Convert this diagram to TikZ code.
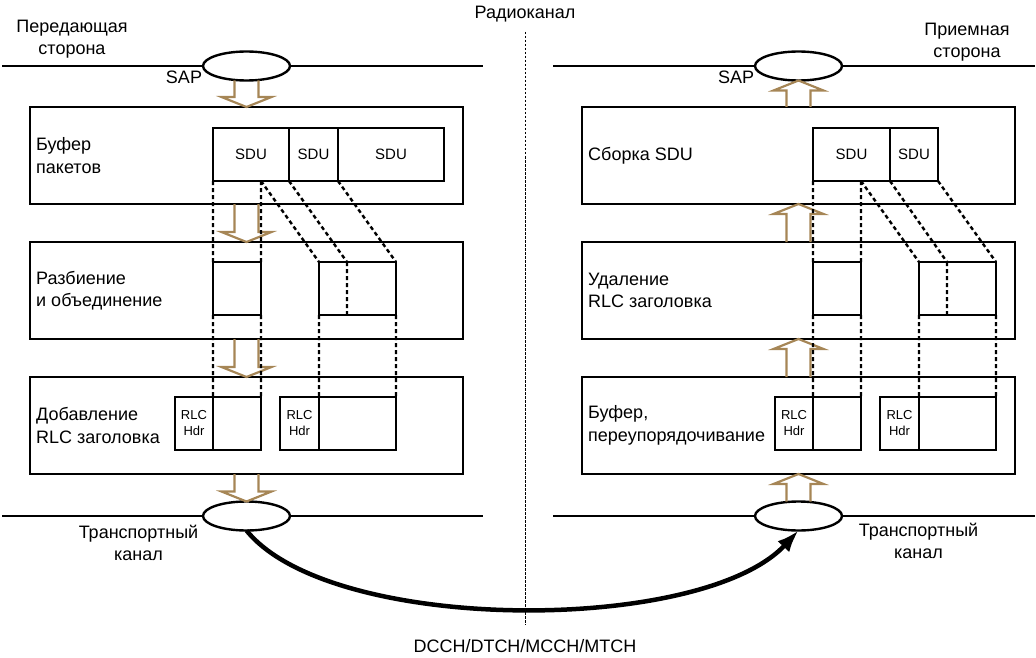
\documentclass[tikz,border=0pt]{standalone}
\usepackage{fontspec}
\setmainfont{Liberation Sans}
\usetikzlibrary{positioning,calc,shapes.geometric,arrows.meta}
\definecolor{feedbrown}{RGB}{166,134,86}

\begin{document}
\begin{tikzpicture}[
    x=1pt, y=-1pt,
    stage/.style={draw, line width=2.6pt, minimum width=433pt, minimum height=97pt, inner sep=0pt, outer sep=0pt},
    cell/.style={draw, line width=2.6pt, anchor=north west, minimum height=53pt, inner sep=0pt, outer sep=0pt,
      font=\fontsize{15pt}{18pt}\selectfont},
    hdrcell/.style={cell, align=center, font=\fontsize{13pt}{16pt}\selectfont},
    lbl/.style={inner sep=0pt, align=left, font=\fontsize{18pt}{22.5pt}\selectfont},
    txt/.style={inner sep=0pt, align=center, font=\fontsize{18pt}{22.5pt}\selectfont},
    port/.style={draw, ellipse, line width=2.4pt, minimum width=87pt, minimum height=29pt, inner sep=0pt, outer sep=0pt},
    bus/.style={line width=2.2pt},
    link/.style={line width=2.4pt, dash pattern=on 4pt off 3pt},
    feed/.style={draw=feedbrown, line width=2.2pt, to path={
      let \p1=(\tikztostart), \p2=(\tikztotarget) in
      (\x1-12pt,\y1) -- (\x1-12pt,\y2+#1) -- (\x1-25pt,\y2+#1) -- (\x1,\y2)
      -- (\x1+25pt,\y2+#1) -- (\x1+12pt,\y2+#1) -- (\x1+12pt,\y1)}},
    feed/.default=10pt,
    channel/.style={line width=4.5pt, -{Latex[length=22pt,width=16pt]}}
  ]

  \useasboundingbox (0,0) rectangle (1036,658);

  \node[stage] (lbuf) at (246.5,155.5) {};
  \node[stage] (lseg) at (246.5,290.5) {};
  \node[stage] (lhdr) at (246.5,425.5) {};
  \node[stage] (rasm) at (798.5,155.5) {};
  \node[stage] (rrem) at (798.5,290.5) {};
  \node[stage] (rbuf) at (798.5,425.5) {};

  \node[lbl, right=6pt of lbuf.west] {Буфер\\пакетов};
  \node[lbl, right=6pt of lseg.west] {Разбиение\\и объединение};
  \node[lbl, right=6pt of lhdr.west] {Добавление\\RLC заголовка};
  \node[lbl, right=6pt of rasm.west] {Сборка SDU};
  \node[lbl, right=6pt of rrem.west] {Удаление\\RLC заголовка};
  \node[lbl, right=6pt of rbuf.west] {Буфер,\\переупорядочивание};

  \node[cell, minimum width=76pt] (ls1) at (213,128) {SDU};
  \node[cell, minimum width=49pt] (ls2) at (ls1.north east) {SDU};
  \node[cell, minimum width=106pt] (ls3) at (ls2.north east) {SDU};
  \node[cell, minimum width=48pt] (lg1) at (213,262) {};
  \node[cell, minimum width=77pt] (lg2) at (319,262) {};
  \node[hdrcell, minimum width=38pt] (lh1) at (175,397) {RLC\\Hdr};
  \node[cell, minimum width=48pt] (ld1) at (lh1.north east) {};
  \node[hdrcell, minimum width=39pt] (lh2) at (280,397) {RLC\\Hdr};
  \node[cell, minimum width=77pt] (ld2) at (lh2.north east) {};

  \node[cell, minimum width=77pt] (rs1) at (813,128) {SDU};
  \node[cell, minimum width=48pt] (rs2) at (rs1.north east) {SDU};
  \node[cell, minimum width=48pt] (rg1) at (813,262) {};
  \node[cell, minimum width=77pt] (rg2) at (919,262) {};
  \node[hdrcell, minimum width=38pt] (rh1) at (775,397) {RLC\\Hdr};
  \node[cell, minimum width=48pt] (rd1) at (rh1.north east) {};
  \node[hdrcell, minimum width=39pt] (rh2) at (880,397) {RLC\\Hdr};
  \node[cell, minimum width=77pt] (rd2) at (rh2.north east) {};

  \node[port] (sapL) at (246.5,66) {};
  \node[port] (trL) at (246.5,516) {};
  \node[port] (sapR) at (798.5,66) {};
  \node[port] (trR) at (798.5,516) {};

  \draw[feed] (sapL.south) to (lbuf.north);
  \draw[feed] (lbuf.south) to (lseg.north);
  \draw[feed] (lseg.south) to (lhdr.north);
  \draw[feed] (lhdr.south) to (trL.north);
  \draw[feed=-10pt] (trR.north) to (rbuf.south);
  \draw[feed=-10pt] (rbuf.north) to (rrem.south);
  \draw[feed=-10pt] (rrem.north) to (rasm.south);
  \draw[feed=-10pt] (rasm.north) to (sapR.south);

  \coordinate (lcut) at (lg1.north east |- ls1.south);
  \coordinate (lmidt) at ([xshift=28pt]lg2.north west);
  \coordinate (lmidb) at ([xshift=28pt]lg2.south west);
  \draw[link] (ls1.south west) -- (lg1.north west)
    (lcut) -- (lg1.north east)
    (lcut) -- (lg2.north west)
    (ls1.south east) -- (lmidt)
    (ls2.south east) -- (lg2.north east)
    (lmidt) -- (lmidb)
    (lg1.south west) -- (ld1.north west)
    (lg1.south east) -- (ld1.north east)
    (lg2.south west) -- (ld2.north west)
    (lg2.south east) -- (ld2.north east);

  \coordinate (rcut) at (rg1.north east |- rs1.south);
  \coordinate (rmidt) at ([xshift=28pt]rg2.north west);
  \coordinate (rmidb) at ([xshift=28pt]rg2.south west);
  \draw[link] (rs1.south west) -- (rg1.north west)
    (rcut) -- (rg1.north east)
    (rcut) -- (rg2.north west)
    (rs1.south east) -- (rmidt)
    (rs2.south east) -- (rg2.north east)
    (rmidt) -- (rmidb)
    (rg1.south west) -- (rd1.north west)
    (rg1.south east) -- (rd1.north east)
    (rg2.south west) -- (rd2.north west)
    (rg2.south east) -- (rd2.north east);

  \coordinate (lbusa) at (2,66);
  \coordinate (lbusb) at (483,66);
  \coordinate (lbusc) at (2,516);
  \coordinate (lbusd) at (483,516);
  \coordinate (rbusa) at (553,66);
  \coordinate (rbusb) at (1035,66);
  \coordinate (rbusc) at (553,516);
  \coordinate (rbusd) at (1035,516);
  \draw[bus] (lbusa) -- (sapL.west) (sapL.east) -- (lbusb);
  \draw[bus] (lbusc) -- (trL.west) (trL.east) -- (lbusd);
  \draw[bus] (rbusa) -- (sapR.west) (sapR.east) -- (rbusb);
  \draw[bus] (rbusc) -- (trR.west) (trR.east) -- (rbusd);

  \node[txt] (tx) at (72,39) {Передающая\\сторона};
  \node[txt] (rx) at (967,42) {Приемная\\сторона};
  \node[txt] (sapLt) at (184,77) {SAP};
  \node[txt] (sapRt) at (736,77) {SAP};
  \node[txt] (trLt) at (138.5,543) {Транспортный\\канал};
  \node[txt] (trRt) at (918.5,541) {Транспортный\\канал};
  \node[txt] (radio) at (525,14) {Радиоканал};
  \node[txt] (logch) at (525,646) {DCCH/DTCH/MCCH/MTCH};

  \coordinate (septop) at (525,32);
  \coordinate (sepbot) at (525,625);
  \draw[line width=1pt, dash pattern=on 2.5pt off 1.5pt] (septop) -- (sepbot);

  \draw[channel] (trL.south) .. controls +(84,104) and +(-97,104) .. (trR.south);
\end{tikzpicture}
\end{document}
